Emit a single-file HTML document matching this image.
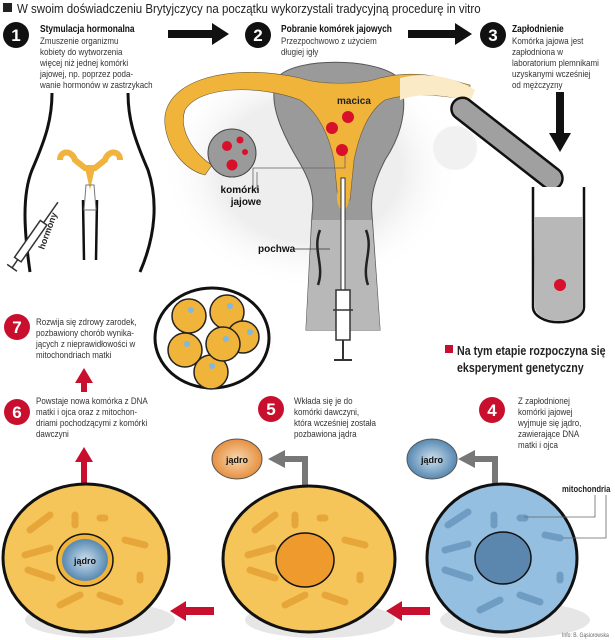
<!DOCTYPE html>
<html><head><meta charset="utf-8"><style>
html,body{margin:0;padding:0;background:#fff;}
svg{display:block;font-family:"Liberation Sans",sans-serif;}
.t{font-size:9.5px;fill:#333;}
.b{font-size:10px;font-weight:bold;fill:#111;}
.n{font-size:17px;font-weight:bold;fill:#fff;text-anchor:middle;}
</style></head><body>
<svg width="615" height="640" viewBox="0 0 615 640" xmlns="http://www.w3.org/2000/svg">
<defs>
<radialGradient id="sh" cx="0.5" cy="0.5" r="0.5"><stop offset="0.6" stop-color="#ddd"/><stop offset="1" stop-color="#fff" stop-opacity="0"/></radialGradient>
<radialGradient id="bj" cx="0.5" cy="0.5" r="0.6"><stop offset="0" stop-color="#cfe0ee"/><stop offset="1" stop-color="#3e77a6"/></radialGradient>
<radialGradient id="oj" cx="0.5" cy="0.5" r="0.6"><stop offset="0" stop-color="#f7d7b0"/><stop offset="1" stop-color="#e3822a"/></radialGradient>
</defs>
<!-- title -->
<rect x="3" y="3" width="9" height="9" fill="#222"/>
<g transform="translate(17 0) scale(0.92 1)"><text x="0" y="13" style="font-size:12.5px;fill:#222">W swoim doświadczeniu Brytyjczycy na początku wykorzystali tradycyjną procedurę in vitro</text></g>

<!-- step numbers top -->
<circle cx="16" cy="35" r="13" fill="#111"/><text x="16" y="41" class="n">1</text>
<circle cx="258" cy="35" r="13" fill="#111"/><text x="258" y="41" class="n">2</text>
<circle cx="493" cy="35" r="13" fill="#111"/><text x="493" y="41" class="n">3</text>
<g transform="translate(40 0) scale(0.84 1)">
<text x="0" y="32" class="b">Stymulacja hormonalna</text>
<text class="t"><tspan x="0" y="44">Zmuszenie organizmu</tspan><tspan x="0" y="55">kobiety do wytworzenia</tspan><tspan x="0" y="66">więcej niż jednej komórki</tspan><tspan x="0" y="77">jajowej, np. poprzez poda-</tspan><tspan x="0" y="88">wanie hormonów w zastrzykach</tspan></text></g>
<g transform="translate(281 0) scale(0.84 1)">
<text x="0" y="32" class="b">Pobranie komórek jajowych</text>
<text class="t"><tspan x="0" y="44">Przezpochwowo z użyciem</tspan><tspan x="0" y="55">długiej igły</tspan></text></g>
<g transform="translate(512 0) scale(0.84 1)">
<text x="0" y="32" class="b">Zapłodnienie</text>
<text class="t"><tspan x="0" y="44">Komórka jajowa jest</tspan><tspan x="0" y="55">zapłodniona w</tspan><tspan x="0" y="66">laboratorium plemnikami</tspan><tspan x="0" y="77">uzyskanymi wcześniej</tspan><tspan x="0" y="88">od mężczyzny</tspan></text></g>
<!-- black arrows -->
<path d="M168 30 H212 V23 L229 34 L212 45 V38 H168 Z" fill="#111"/>
<path d="M408 30 H455 V23 L472 34 L455 45 V38 H408 Z" fill="#111"/>
<path d="M556 92 H564 V133 H571 L560 152 L549 133 H556 Z" fill="#111"/>

<!-- body outline step 1 -->
<path d="M52 93 C52 120 45 140 32 170 C22 195 24 230 30 272" fill="none" stroke="#111" stroke-width="3"/>
<path d="M128 93 C128 120 135 140 148 170 C158 200 156 235 140 272" fill="none" stroke="#111" stroke-width="3"/>
<path d="M60 160 C60 150 72 150 75 160 L85 168 L95 168 L105 160 C108 150 120 150 120 160" fill="none" stroke="#f0b33e" stroke-width="6"/>
<path d="M85 168 L90 190 L95 168 Z" fill="#f0b33e"/>
<path d="M83 200 L84 260 M97 200 L96 260" stroke="#111" stroke-width="2.5"/>
<path d="M86 185 L94 185 L96 210 L84 210 Z" fill="none" stroke="#777"/>
<g transform="rotate(-55 35 235)"><rect x="5" y="231" width="45" height="8" fill="#fff" stroke="#333" stroke-width="1.5"/><line x1="50" y1="235" x2="75" y2="235" stroke="#333" stroke-width="1.5"/><line x1="-5" y1="235" x2="5" y2="235" stroke="#333" stroke-width="1.5"/><line x1="-5" y1="229" x2="-5" y2="241" stroke="#333" stroke-width="1.5"/></g>
<text x="0" y="0" transform="translate(44 250) rotate(-70)" style="font-size:9px;font-weight:bold;fill:#222">hormony</text>

<!-- uterus step 2 -->
<ellipse cx="310" cy="170" rx="150" ry="120" fill="url(#sh)" opacity="0.5"/>
<path d="M280 75 C300 58 370 58 395 75 C410 95 405 130 385 160 C375 180 370 195 372 215 L380 330 L306 330 L312 215 C315 195 310 180 298 160 C280 130 265 95 280 75 Z" fill="#9a9a9a" stroke="#555" stroke-width="1"/>
<path d="M312 220 L372 220 L380 330 L306 330 Z" fill="#b8b8b8"/>
<path d="M165 125 C160 80 230 62 300 78 C320 85 360 85 380 78 C420 68 450 80 470 85 L470 100 C440 95 410 92 385 100 C370 110 360 130 354 160 L350 200 L338 200 L334 160 C328 130 315 110 300 100 C260 85 200 85 185 110 C178 130 195 155 212 165 L205 175 C185 170 168 150 165 125 Z" fill="#f1b43a" stroke="#6b5a3a" stroke-width="0.6"/>
<path d="M400 78 C430 70 460 80 475 90 L470 102 C450 95 420 92 400 100 Z" fill="#faeac6"/>
<path d="M343 178 C335 190 335 205 343 212 C351 205 351 190 343 178 Z" fill="#f1b43a"/>
<circle cx="232" cy="153" r="24" fill="#9a9a9a" stroke="#444"/>
<circle cx="227" cy="146" r="5" fill="#d8102c"/><circle cx="240" cy="140" r="3.5" fill="#d8102c"/><circle cx="245" cy="152" r="3" fill="#d8102c"/><circle cx="232" cy="165" r="5.5" fill="#d8102c"/>
<circle cx="455" cy="148" r="22" fill="#eee" opacity="0.8"/>
<circle cx="348" cy="117" r="6" fill="#d8102c"/><circle cx="332" cy="128" r="6" fill="#d8102c"/><circle cx="342" cy="150" r="6" fill="#d8102c"/>
<text x="337" y="104" style="font-size:10px;font-weight:bold;fill:#222">macica</text>
<path d="M253 190 V168 H345 V155" fill="none" stroke="#666" stroke-width="0.8"/>
<path d="M257 190 V172" fill="none" stroke="#666" stroke-width="0.8"/>
<text x="240" y="193" class="b" text-anchor="middle">komórki</text>
<text x="246" y="205" class="b" text-anchor="middle">jajowe</text>
<path d="M320 230 C312 250 325 265 318 285 M366 230 C374 250 361 265 368 285" fill="none" stroke="#222" stroke-width="2.5"/>
<text x="258" y="252" class="b">pochwa</text>
<line x1="294" y1="249" x2="330" y2="249" stroke="#333" stroke-width="0.8"/>
<!-- syringe -->
<rect x="341" y="178" width="4" height="112" fill="#fff" stroke="#333"/>
<rect x="336" y="290" width="14" height="50" fill="#fff" stroke="#333" stroke-width="1.5"/>
<line x1="343" y1="340" x2="343" y2="360" stroke="#333" stroke-width="2"/>
<line x1="334" y1="360" x2="352" y2="360" stroke="#333" stroke-width="2"/>
<line x1="333" y1="310" x2="353" y2="310" stroke="#333" stroke-width="1.5"/>

<!-- test tubes -->
<g transform="rotate(38 505 142)"><rect x="440" y="131" width="135" height="22" rx="11" fill="#a0a0a0" stroke="#111" stroke-width="2.5"/></g>
<path d="M533 187 V307 A25 15 0 0 0 584 307 V187" fill="#fff" stroke="#111" stroke-width="2.5"/>
<path d="M534 217 H583 V307 A24 14 0 0 1 535 307 Z" fill="#b8b8b8"/>
<circle cx="560" cy="285" r="6" fill="#d8102c"/>

<!-- cluster -->
<ellipse cx="218" cy="344" rx="60" ry="50" fill="url(#sh)"/>
<ellipse cx="212" cy="338" rx="57" ry="50" fill="#fff" stroke="#111" stroke-width="3"/>
<g fill="#f1b43a" stroke="#222" stroke-width="1.5">
<circle cx="189" cy="316" r="17"/><circle cx="227" cy="312" r="17"/><circle cx="243" cy="337" r="16"/><circle cx="185" cy="350" r="17"/><circle cx="211" cy="372" r="17"/><circle cx="223" cy="344" r="17"/></g>
<g fill="#7fb8e0"><circle cx="191" cy="310" r="3"/><circle cx="230" cy="306" r="3"/><circle cx="250" cy="332" r="3"/><circle cx="187" cy="344" r="3"/><circle cx="226" cy="339" r="3"/><circle cx="212" cy="366" r="3"/></g>

<!-- red numbers -->
<g fill="#c8102e">
<circle cx="17" cy="327" r="13"/><circle cx="17" cy="412" r="13"/><circle cx="271" cy="409" r="13"/><circle cx="492" cy="410" r="13"/>
<rect x="445" y="345" width="8" height="8"/>
</g>
<text x="17" y="333" class="n">7</text><text x="17" y="418" class="n">6</text><text x="271" y="415" class="n">5</text><text x="492" y="416" class="n">4</text>
<g transform="translate(36 0) scale(0.84 1)"><text class="t"><tspan x="0" y="325">Rozwija się zdrowy zarodek,</tspan><tspan x="0" y="336">pozbawiony chorób wynika-</tspan><tspan x="0" y="347">jących z nieprawidłowości w</tspan><tspan x="0" y="358">mitochondriach matki</tspan></text>
<text class="t"><tspan x="0" y="404">Powstaje nowa komórka z DNA</tspan><tspan x="0" y="415">matki i ojca oraz z mitochon-</tspan><tspan x="0" y="426">driami pochodzącymi z komórki</tspan><tspan x="0" y="437">dawczyni</tspan></text></g>
<g transform="translate(294 0) scale(0.84 1)"><text class="t"><tspan x="0" y="404">Wkłada się je do</tspan><tspan x="0" y="415">komórki dawczyni,</tspan><tspan x="0" y="426">która wcześniej została</tspan><tspan x="0" y="437">pozbawiona jądra</tspan></text></g>
<g transform="translate(518 0) scale(0.84 1)"><text class="t"><tspan x="0" y="404">Z zapłodnionej</tspan><tspan x="0" y="415">komórki jajowej</tspan><tspan x="0" y="426">wyjmuje się jądro,</tspan><tspan x="0" y="437">zawierające DNA</tspan><tspan x="0" y="448">matki i ojca</tspan></text></g>
<g transform="translate(457 0) scale(0.82 1)"><text style="font-size:13px;font-weight:bold;fill:#222"><tspan x="0" y="355">Na tym etapie rozpoczyna się</tspan><tspan x="0" y="372">eksperyment genetyczny</tspan></text></g>

<!-- red arrows -->
<g fill="#c8102e">
<path d="M81 392 V383 H75 L84 368 L93 383 H87 V392 Z"/>
<path d="M81 485 V462 H75 L84 447 L93 462 H87 V485 Z"/>
<path d="M214 607 H186 V601 L170 611 L186 621 V615 H214 Z"/>
<path d="M430 607 H402 V601 L386 611 L402 621 V615 H430 Z"/>
</g>
<!-- gray L arrows -->
<path d="M302 485 V462 H285 V468 L268 459 L285 450 V456 H308 V485 Z" fill="#777"/>
<path d="M492 485 V462 H475 V468 L458 459 L475 450 V456 H498 V485 Z" fill="#777"/>
<ellipse cx="237" cy="459" rx="25" ry="20" fill="url(#oj)" stroke="#555"/>
<text x="237" y="463" class="b" text-anchor="middle" style="font-size:9px">jądro</text>
<ellipse cx="432" cy="459" rx="25" ry="20" fill="url(#bj)" stroke="#555"/>
<text x="432" y="463" class="b" text-anchor="middle" style="font-size:9px">jądro</text>

<!-- cells -->
<ellipse cx="100" cy="620" rx="75" ry="18" fill="#e6e6e6"/>
<ellipse cx="320" cy="620" rx="75" ry="18" fill="#e6e6e6"/>
<ellipse cx="515" cy="620" rx="75" ry="18" fill="#e6e6e6"/>
<ellipse cx="86" cy="558" rx="83" ry="74" fill="#f6c55a" stroke="#111" stroke-width="3"/>
<ellipse cx="309" cy="559" rx="86" ry="73" fill="#f6c55a" stroke="#111" stroke-width="3"/>
<ellipse cx="502" cy="558" rx="75" ry="74" fill="#94bfe0" stroke="#111" stroke-width="3"/>
<g fill="none" stroke="#e7a63a" stroke-width="7" stroke-linecap="round">
<path d="M30 530 L50 515 M25 555 L50 548 M28 570 L52 578 M60 605 L80 595 M100 595 L120 602 M125 540 L145 545 M75 515 L75 525 M100 518 L105 518 M140 575 L140 580"/>
<path d="M255 530 L275 515 M248 555 L273 548 M250 570 L275 578 M285 605 L305 595 M325 595 L345 602 M345 540 L365 545 M295 515 L295 525 M320 518 L325 518 M360 575 L360 580"/>
</g>
<g fill="none" stroke="#6f9cc2" stroke-width="7" stroke-linecap="round">
<path d="M448 525 L468 512 M445 550 L468 544 M445 570 L470 578 M480 610 L500 600 M520 595 L540 602 M545 535 L560 538 M494 515 L494 525 M520 518 L525 518 M560 575 L560 580"/>
</g>
<ellipse cx="85" cy="560" rx="28" ry="26" fill="#f1b43a" stroke="#111" stroke-width="1.5"/>
<ellipse cx="85" cy="560" rx="23" ry="21" fill="url(#bj)"/>
<text x="85" y="564" class="b" text-anchor="middle" style="font-size:9px">jądro</text>
<ellipse cx="305" cy="560" rx="29" ry="27" fill="#ee9a2d" stroke="#111" stroke-width="1.5"/>
<ellipse cx="503" cy="558" rx="28" ry="26" fill="#5b87ae" stroke="#111" stroke-width="1.5"/>
<path d="M524 517 H595 V495 M563 538 H606 V495" fill="none" stroke="#666" stroke-width="0.8"/>
<g transform="translate(562 0) scale(0.85 1)"><text x="0" y="492" style="font-size:9px;font-weight:bold;fill:#222">mitochondria</text></g>
<g transform="translate(562 0) scale(0.85 1)"><text x="0" y="637" style="font-size:6px;fill:#666">Info: B. Gąsiorowska</text></g>
</svg>
</body></html>
